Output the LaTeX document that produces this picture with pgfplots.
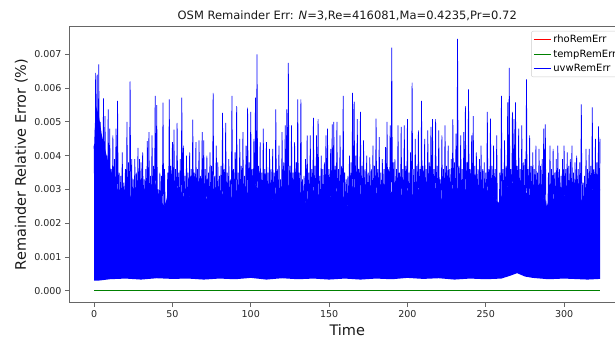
\documentclass[border=0pt]{standalone}
\usepackage{pgfplots}
\pgfplotsset{compat=1.18}
\usepackage{pgfplotstable}
\usepackage{fontspec}
\setmainfont{DejaVu Sans}
\pgfplotstableread{
x y
0 0.00430
0.5 0.00200
1 0.00645
1.5 0.00200
2 0.00640
2.5 0.00200
3 0.00670
3.5 0.00200
4 0.00500
4.5 0.00200
5 0.00420
5.5 0.00200
6 0.00570
6.5 0.00200
7 0.00517
7.5 0.00200
8 0.00400
8.5 0.00200
9 0.00537
9.5 0.00200
10 0.00480
10.5 0.00200
11 0.00360
11.5 0.00200
12 0.00460
12.5 0.00200
13 0.00390
13.5 0.00200
14 0.00480
14.5 0.00200
15 0.00562
15.5 0.00200
16 0.00350
16.5 0.00200
17 0.00340
17.5 0.00200
18 0.00410
18.5 0.00200
19 0.00320
19.5 0.00200
20 0.00360
20.5 0.00200
21 0.00500
21.5 0.00200
22 0.00380
22.5 0.00200
23 0.00620
23.5 0.00200
24 0.00390
24.5 0.00200
25 0.00330
25.5 0.00200
26 0.00390
26.5 0.00200
27 0.00350
27.5 0.00200
28 0.00423
28.5 0.00200
29 0.00390
29.5 0.00200
30 0.00380
30.5 0.00200
31 0.00410
31.5 0.00200
32 0.00330
32.5 0.00200
33 0.00360
33.5 0.00200
34 0.00443
34.5 0.00200
35 0.00470
35.5 0.00200
36 0.00340
36.5 0.00200
37 0.00460
37.5 0.00200
38 0.00370
38.5 0.00200
39 0.00577
39.5 0.00200
40 0.00550
40.5 0.00200
41 0.00300
41.5 0.00200
42 0.00350
42.5 0.00200
43 0.00340
43.5 0.00200
44 0.00557
44.5 0.00200
45 0.00360
45.5 0.00200
46 0.00260
46.5 0.00200
47 0.00350
47.5 0.00200
48 0.00567
48.5 0.00200
49 0.00370
49.5 0.00200
50 0.00440
50.5 0.00200
51 0.00477
51.5 0.00200
52 0.00360
52.5 0.00200
53 0.00497
53.5 0.00200
54 0.00350
54.5 0.00200
55 0.00390
55.5 0.00200
56 0.00572
56.5 0.00200
57 0.00430
57.5 0.00200
58 0.00340
58.5 0.00200
59 0.00400
59.5 0.00200
60 0.00350
60.5 0.00200
61 0.00410
61.5 0.00200
62 0.00360
62.5 0.00200
63 0.00507
63.5 0.00200
64 0.00350
64.5 0.00200
65 0.00440
65.5 0.00200
66 0.00360
66.5 0.00200
67 0.00445
67.5 0.00200
68 0.00340
68.5 0.00200
69 0.00470
69.5 0.00200
70 0.00445
70.5 0.00200
71 0.00360
71.5 0.00200
72 0.00400
72.5 0.00200
73 0.00350
73.5 0.00200
74 0.00410
74.5 0.00200
75 0.00370
75.5 0.00200
76 0.00586
76.5 0.00200
77 0.00340
77.5 0.00200
78 0.00430
78.5 0.00200
79 0.00380
79.5 0.00200
80 0.00340
80.5 0.00200
81 0.00370
81.5 0.00200
82 0.00527
82.5 0.00200
83 0.00360
83.5 0.00200
84 0.00497
84.5 0.00200
85 0.00350
85.5 0.00200
86 0.00390
86.5 0.00200
87 0.00330
87.5 0.00200
88 0.00577
88.5 0.00200
89 0.00360
89.5 0.00200
90 0.00410
90.5 0.00200
91 0.00547
91.5 0.00200
92 0.00350
92.5 0.00200
93 0.00450
93.5 0.00200
94 0.00370
94.5 0.00200
95 0.00470
95.5 0.00200
96 0.00340
96.5 0.00200
97 0.00430
97.5 0.00200
98 0.00542
98.5 0.00200
99 0.00380
99.5 0.00200
100 0.00530
100.5 0.00200
101 0.00360
101.5 0.00200
102 0.00450
102.5 0.00200
103 0.00572
103.5 0.00200
104 0.00700
104.5 0.00200
105 0.00370
105.5 0.00200
106 0.00440
106.5 0.00200
107 0.00350
107.5 0.00200
108 0.00480
108.5 0.00200
109 0.00360
109.5 0.00200
110 0.00440
110.5 0.00200
111 0.00350
111.5 0.00200
112 0.00420
112.5 0.00200
113 0.00360
113.5 0.00200
114 0.00420
114.5 0.00200
115 0.00350
115.5 0.00200
116 0.00537
116.5 0.00200
117 0.00360
117.5 0.00200
118 0.00430
118.5 0.00200
119 0.00330
119.5 0.00200
120 0.00470
120.5 0.00200
121 0.00380
121.5 0.00200
122 0.00490
122.5 0.00200
123 0.00537
123.5 0.00200
124 0.00675
124.5 0.00200
125 0.00370
125.5 0.00200
126 0.00490
126.5 0.00200
127 0.00350
127.5 0.00200
128 0.00440
128.5 0.00200
129 0.00380
129.5 0.00200
130 0.00567
130.5 0.00200
131 0.00350
131.5 0.00200
132 0.00567
132.5 0.00200
133 0.00330
133.5 0.00200
134 0.00340
134.5 0.00200
135 0.00390
135.5 0.00200
136 0.00460
136.5 0.00200
137 0.00350
137.5 0.00200
138 0.00460
138.5 0.00200
139 0.00360
139.5 0.00200
140 0.00512
140.5 0.00200
141 0.00370
141.5 0.00200
142 0.00460
142.5 0.00200
143 0.00508
143.5 0.00200
144 0.00340
144.5 0.00200
145 0.00400
145.5 0.00200
146 0.00360
146.5 0.00200
147 0.00380
147.5 0.00200
148 0.00460
148.5 0.00200
149 0.00480
149.5 0.00200
150 0.00360
150.5 0.00200
151 0.00420
151.5 0.00200
152 0.00493
152.5 0.00200
153 0.00500
153.5 0.00200
154 0.00370
154.5 0.00200
155 0.00500
155.5 0.00200
156 0.00360
156.5 0.00200
157 0.00460
157.5 0.00200
158 0.00370
158.5 0.00200
159 0.00577
159.5 0.00200
160 0.00350
160.5 0.00200
161 0.00330
161.5 0.00200
162 0.00340
162.5 0.00200
163 0.00400
163.5 0.00200
164 0.00380
164.5 0.00200
165 0.00586
165.5 0.00200
166 0.00560
166.5 0.00200
167 0.00400
167.5 0.00200
168 0.00508
168.5 0.00200
169 0.00360
169.5 0.00200
170 0.00530
170.5 0.00200
171 0.00370
171.5 0.00200
172 0.00445
172.5 0.00200
173 0.00360
173.5 0.00200
174 0.00400
174.5 0.00200
175 0.00350
175.5 0.00200
176 0.00395
176.5 0.00200
177 0.00360
177.5 0.00200
178 0.00430
178.5 0.00200
179 0.00370
179.5 0.00200
180 0.00510
180.5 0.00200
181 0.00360
181.5 0.00200
182 0.00455
182.5 0.00200
183 0.00350
183.5 0.00200
184 0.00390
184.5 0.00200
185 0.00360
185.5 0.00200
186 0.00425
186.5 0.00200
187 0.00500
187.5 0.00200
188 0.00360
188.5 0.00200
189 0.00490
189.5 0.00200
190 0.00720
190.5 0.00200
191 0.00380
191.5 0.00200
192 0.00390
192.5 0.00200
193 0.00360
193.5 0.00200
194 0.00490
194.5 0.00200
195 0.00350
195.5 0.00200
196 0.00485
196.5 0.00200
197 0.00360
197.5 0.00200
198 0.00490
198.5 0.00200
199 0.00370
199.5 0.00200
200 0.00508
200.5 0.00200
201 0.00350
201.5 0.00200
202 0.00410
202.5 0.00200
203 0.00616
203.5 0.00200
204 0.00360
204.5 0.00200
205 0.00450
205.5 0.00200
206 0.00370
206.5 0.00200
207 0.00475
207.5 0.00200
208 0.00360
208.5 0.00200
209 0.00562
209.5 0.00200
210 0.00370
210.5 0.00200
211 0.00450
211.5 0.00200
212 0.00360
212.5 0.00200
213 0.00475
213.5 0.00200
214 0.00380
214.5 0.00200
215 0.00485
215.5 0.00200
216 0.00508
216.5 0.00200
217 0.00360
217.5 0.00200
218 0.00508
218.5 0.00200
219 0.00370
219.5 0.00200
220 0.00475
220.5 0.00200
221 0.00330
221.5 0.00200
222 0.00460
222.5 0.00200
223 0.00360
223.5 0.00200
224 0.00490
224.5 0.00200
225 0.00370
225.5 0.00200
226 0.00430
226.5 0.00200
227 0.00360
227.5 0.00200
228 0.00390
228.5 0.00200
229 0.00508
229.5 0.00200
230 0.00380
230.5 0.00200
231 0.00465
231.5 0.00200
232 0.00746
232.5 0.00200
233 0.00370
233.5 0.00200
234 0.00460
234.5 0.00200
235 0.00360
235.5 0.00200
236 0.00470
236.5 0.00200
237 0.00547
237.5 0.00200
238 0.00380
238.5 0.00200
239 0.00596
239.5 0.00200
240 0.00360
240.5 0.00200
241 0.00460
241.5 0.00200
242 0.00517
242.5 0.00200
243 0.00370
243.5 0.00200
244 0.00410
244.5 0.00200
245 0.00360
245.5 0.00200
246 0.00390
246.5 0.00200
247 0.00430
247.5 0.00200
248 0.00360
248.5 0.00200
249 0.00380
249.5 0.00200
250 0.00350
250.5 0.00200
251 0.00530
251.5 0.00200
252 0.00360
252.5 0.00200
253 0.00510
253.5 0.00200
254 0.00370
254.5 0.00200
255 0.00430
255.5 0.00200
256 0.00360
256.5 0.00200
257 0.00460
257.5 0.00200
258 0.00260
258.5 0.00200
259 0.00350
259.5 0.00200
260 0.00577
260.5 0.00200
261 0.00360
261.5 0.00200
262 0.00445
262.5 0.00200
263 0.00370
263.5 0.00200
264 0.00558
264.5 0.00200
265 0.00660
265.5 0.00200
266 0.00360
266.5 0.00200
267 0.00530
267.5 0.00200
268 0.00508
268.5 0.00200
269 0.00558
269.5 0.00200
270 0.00370
270.5 0.00200
271 0.00480
271.5 0.00200
272 0.00360
272.5 0.00200
273 0.00490
273.5 0.00200
274 0.00380
274.5 0.00200
275 0.00390
275.5 0.00200
276 0.00626
276.5 0.00200
277 0.00360
277.5 0.00200
278 0.00460
278.5 0.00200
279 0.00370
279.5 0.00200
280 0.00410
280.5 0.00200
281 0.00360
281.5 0.00200
282 0.00430
282.5 0.00200
283 0.00350
283.5 0.00200
284 0.00420
284.5 0.00200
285 0.00370
285.5 0.00200
286 0.00390
286.5 0.00200
287 0.00480
287.5 0.00200
288 0.00493
288.5 0.00200
289 0.00230
289.5 0.00200
290 0.00350
290.5 0.00200
291 0.00430
291.5 0.00200
292 0.00360
292.5 0.00200
293 0.00420
293.5 0.00200
294 0.00350
294.5 0.00200
295 0.00390
295.5 0.00200
296 0.00430
296.5 0.00200
297 0.00360
297.5 0.00200
298 0.00340
298.5 0.00200
299 0.00390
299.5 0.00200
300 0.00430
300.5 0.00200
301 0.00360
301.5 0.00200
302 0.00410
302.5 0.00200
303 0.00370
303.5 0.00200
304 0.00390
304.5 0.00200
305 0.00430
305.5 0.00200
306 0.00350
306.5 0.00200
307 0.00380
307.5 0.00200
308 0.00400
308.5 0.00200
309 0.00360
309.5 0.00200
310 0.00380
310.5 0.00200
311 0.00552
311.5 0.00200
312 0.00320
312.5 0.00200
313 0.00340
313.5 0.00200
314 0.00420
314.5 0.00200
315 0.00360
315.5 0.00200
316 0.00420
316.5 0.00200
317 0.00370
317.5 0.00200
318 0.00543
318.5 0.00200
319 0.00360
319.5 0.00200
320 0.00450
320.5 0.00200
321 0.00380
321.5 0.00200
322 0.00487
322.5 0.00200
323 0.00450
}\spikes

\begin{document}
\begin{tikzpicture}
\path[use as bounding box] (0pt,0pt) rectangle (615pt,338pt);
\clip (0pt,0pt) rectangle (615pt,338pt);
\begin{axis}[
  at={(69pt,35.3pt)}, anchor=south west,
  scale only axis, width=556.5pt, height=276.7pt,
  xmin=-16, xmax=339.2, ymin=-0.000355, ymax=0.00784,
  xtick={0,50,100,150,200,250,300},
  xticklabels={0,50,100,150,200,250,300},
  ytick={0,0.001,0.002,0.003,0.004,0.005,0.006,0.007},
  yticklabels={0.000,0.001,0.002,0.003,0.004,0.005,0.006,0.007},
  scaled y ticks=false,
  /pgf/number format/assume math mode=true,
  tick pos=left, tick align=outside,
  major tick length=4pt,
  every tick/.style={black!60, line width=0.8pt},
  axis line style={black!60, line width=0.8pt},
  tick label style={font=\fontsize{9.5}{11}\selectfont, text=black!85},
  title={OSM Remainder Err: {\itshape N}=3,Re=416081,Ma=0.4235,Pr=0.72},
  title style={at={(axis description cs:0.5,1)}, anchor=base, font=\fontsize{11.5}{13}\selectfont, text=black!90},
  xlabel={Time},
  xlabel style={at={(axis description cs:0.5,-0.1203)}, anchor=base, font=\fontsize{14.5}{16}\selectfont, text=black!90},
  ylabel={Remainder Relative Error (\%)},
  ylabel style={at={(axis description cs:-0.0773,0.5)}, anchor=base, font=\fontsize{14.5}{16}\selectfont, text=black!90},
  legend cell align=left,
  legend style={font=\fontsize{10}{12}\selectfont, draw=black!20, rounded corners=2pt,
    fill=white, fill opacity=0.8, text opacity=1,
    at={(axis description cs:0.991,0.982)}, anchor=north east,
    inner sep=2pt, row sep=1.5pt},
]
\addlegendimage{color=red, line width=1pt}
\addlegendentry{rhoRemErr}
\addlegendimage{color=green!50!black, line width=1pt}
\addlegendentry{tempRemErr}
\addlegendimage{color=blue, line width=1pt}
\addlegendentry{uvwRemErr}
\addplot[forget plot, color=red, line width=1pt] coordinates {(0,0.000005) (80,0.000005) (160,0.000005) (240,0.000005) (323,0.000005)};
\addplot[forget plot, color=green!50!black, line width=1pt] coordinates {(0,0.00001) (80,0.00001) (160,0.00001) (240,0.00001) (323,0.00001)};
\addplot[forget plot, fill=blue, draw=none] coordinates {
(0,0.00420) (1,0.00550) (3,0.00520) (5,0.00460) (7,0.00420) (9,0.00380) (12,0.00340) (15,0.00300) (18,0.00290) (21,0.00310) (24,0.00270) (27,0.00300) (30,0.00280) (33,0.00310) (36,0.00300) (39,0.00320) (42,0.00270) (45,0.00250) (48,0.00300) (51,0.00290) (54,0.00310) (57,0.00280) (60,0.00270) (63,0.00300) (66,0.00280) (69,0.00300) (72,0.00270) (75,0.00310) (78,0.00290) (81,0.00280) (84,0.00300) (87,0.00270) (90,0.00300) (93,0.00290) (96,0.00310) (99,0.00280) (102,0.00320) (105,0.00300) (108,0.00280) (111,0.00290) (114,0.00270) (117,0.00300) (120,0.00310) (123,0.00320) (126,0.00300) (129,0.00310) (132,0.00290) (135,0.00260) (138,0.00290) (141,0.00300) (144,0.00280) (147,0.00290) (150,0.00270) (153,0.00300) (156,0.00290) (159,0.00280) (162,0.00250) (165,0.00310) (168,0.00300) (171,0.00280) (174,0.00290) (177,0.00270) (180,0.00290) (183,0.00280) (186,0.00300) (189,0.00290) (192,0.00300) (195,0.00280) (198,0.00290) (201,0.00300) (204,0.00280) (207,0.00300) (210,0.00310) (213,0.00290) (216,0.00310) (219,0.00300) (222,0.00270) (225,0.00290) (228,0.00300) (231,0.00310) (234,0.00290) (237,0.00300) (240,0.00310) (243,0.00290) (246,0.00280) (249,0.00290) (252,0.00300) (255,0.00280) (258,0.00260) (261,0.00290) (264,0.00310) (267,0.00320) (270,0.00310) (273,0.00300) (276,0.00290) (279,0.00280) (282,0.00290) (285,0.00280) (288,0.00270) (289,0.00250) (291,0.00280) (294,0.00270) (297,0.00290) (300,0.00280) (303,0.00290) (306,0.00280) (309,0.00290) (312,0.00260) (315,0.00290) (318,0.00300) (321,0.00290) (323,0.00300)
(323,0.00035) (315,0.00033) (300,0.00036) (290,0.00034) (280,0.00038) (275,0.00042) (270,0.00052) (266,0.00045) (260,0.00036) (250,0.00034) (240,0.00036) (230,0.00033) (220,0.00037) (210,0.00035) (200,0.00038) (190,0.00034) (180,0.00036) (170,0.00033) (160,0.00036) (150,0.00033) (140,0.00036) (130,0.00034) (120,0.00037) (110,0.00033) (100,0.00038) (90,0.00034) (80,0.00036) (70,0.00033) (60,0.00036) (50,0.00035) (40,0.00037) (30,0.00033) (20,0.00036) (10,0.00034) (3,0.00030) (0,0.00030)
};
\addplot[forget plot, color=blue, line width=0.7pt, mark=none] table[x=x, y=y] {\spikes};
\end{axis}
\end{tikzpicture}
\end{document}
